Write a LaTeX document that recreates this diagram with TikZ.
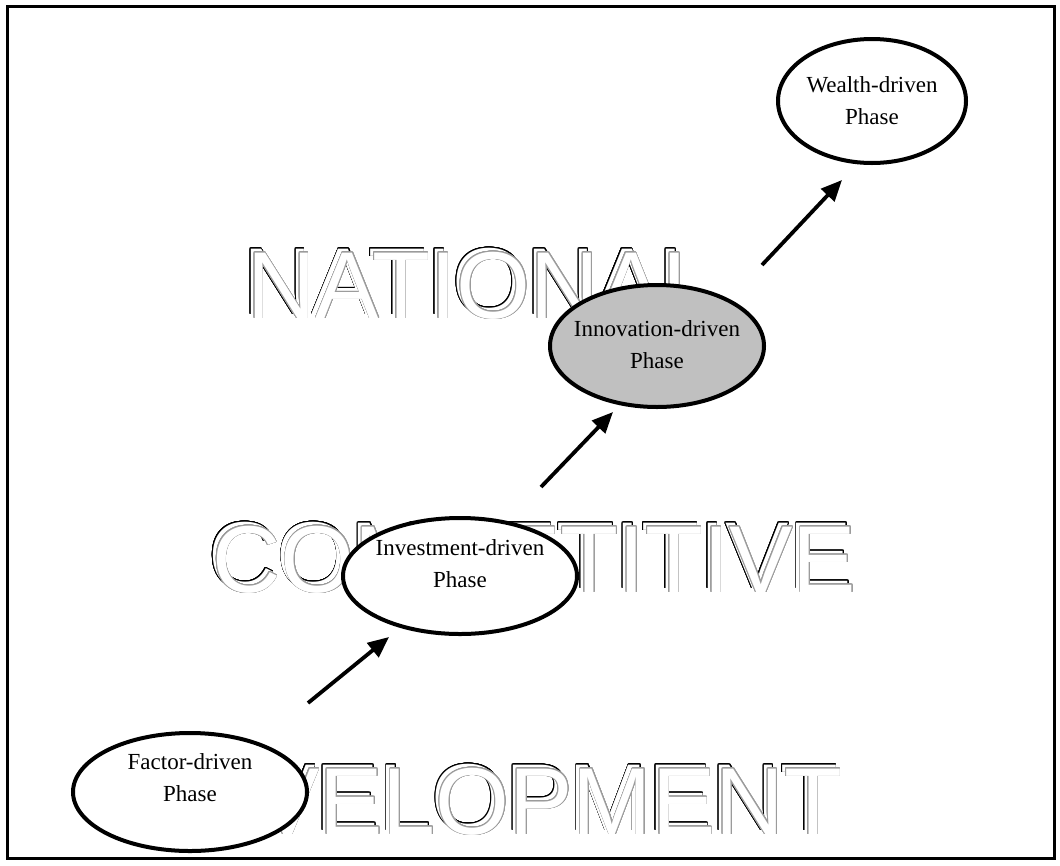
\documentclass[tikz,border=0pt]{standalone}
\usepackage{fontspec}
\setmainfont{Liberation Serif}
\newfontfamily\arialf{Liberation Sans}
\usepackage{contour}
\contourlength{0.75pt}
\contournumber{24}
\usetikzlibrary{shapes.geometric,arrows.meta}
\definecolor{shadowgray}{RGB}{155,155,155}
\definecolor{phasegray}{RGB}{192,192,192}
\tikzset{
  bigtext/.style={anchor=base west, inner sep=0pt, font=\arialf\fontsize{95}{95}\selectfont},
  phasebox/.style={ellipse, draw=black, line width=4pt, fill=white, inner sep=0pt},
  phasetext/.style={inner sep=0pt, align=center, font=\fontsize{23}{32}\selectfont},
  arr/.style={line width=3.8pt, -{Triangle[length=21pt,width=18pt]}},
  frame/.style={draw=black, line width=3pt}
}
\newcommand{\outlinedword}[2]{\contour{#1}{\textcolor{white}{#2}}}
\begin{document}
\begin{tikzpicture}[x=1pt,y=-1pt]
\useasboundingbox (0,0) rectangle (1060,865);
\draw[frame] (7,6) rectangle (1054,858);
% big outlined words: black layer, then grey shadow layer offset
\node[bigtext] (natb) at (243,314) {\outlinedword{black}{NATIONAL}};
\node[bigtext] (natg) at (247,318) {\outlinedword{shadowgray}{NATIONAL}};
\node[bigtext] (comb) at (208,588) {\outlinedword{black}{COMPETITIVE}};
\node[bigtext] (comg) at (212,592) {\outlinedword{shadowgray}{COMPETITIVE}};
\node[bigtext] (devb) at (120,830) {\outlinedword{black}{DEVELOPMENT}};
\node[bigtext] (devg) at (124,834) {\outlinedword{shadowgray}{DEVELOPMENT}};
% phases
\node[phasebox, minimum width=188pt, minimum height=124pt] (wea) at (872,101) {};
\node[phasetext] (weat) at (872,101) {Wealth-driven\\Phase};
\node[phasebox, fill=phasegray, minimum width=214pt, minimum height=122pt] (inn) at (657,346) {};
\node[phasetext] (innt) at (657,345) {Innovation-driven\\Phase};
\node[phasebox, minimum width=234pt, minimum height=116pt] (inv) at (460,576) {};
\node[phasetext] (invt) at (460,564) {Investment-driven\\Phase};
\node[phasebox, minimum width=234pt, minimum height=118pt] (fac) at (190,792) {};
\node[phasetext] (fact) at (190,778) {Factor-driven\\Phase};
% arrows
\coordinate (a1s) at (308,703);
\coordinate (a1e) at (389,637);
\coordinate (a2s) at (541,487);
\coordinate (a2e) at (613,412);
\coordinate (a3s) at (762,265);
\coordinate (a3e) at (842,180);
\draw[arr] (a1s) -- (a1e);
\draw[arr] (a2s) -- (a2e);
\draw[arr] (a3s) -- (a3e);
\end{tikzpicture}
\end{document}
